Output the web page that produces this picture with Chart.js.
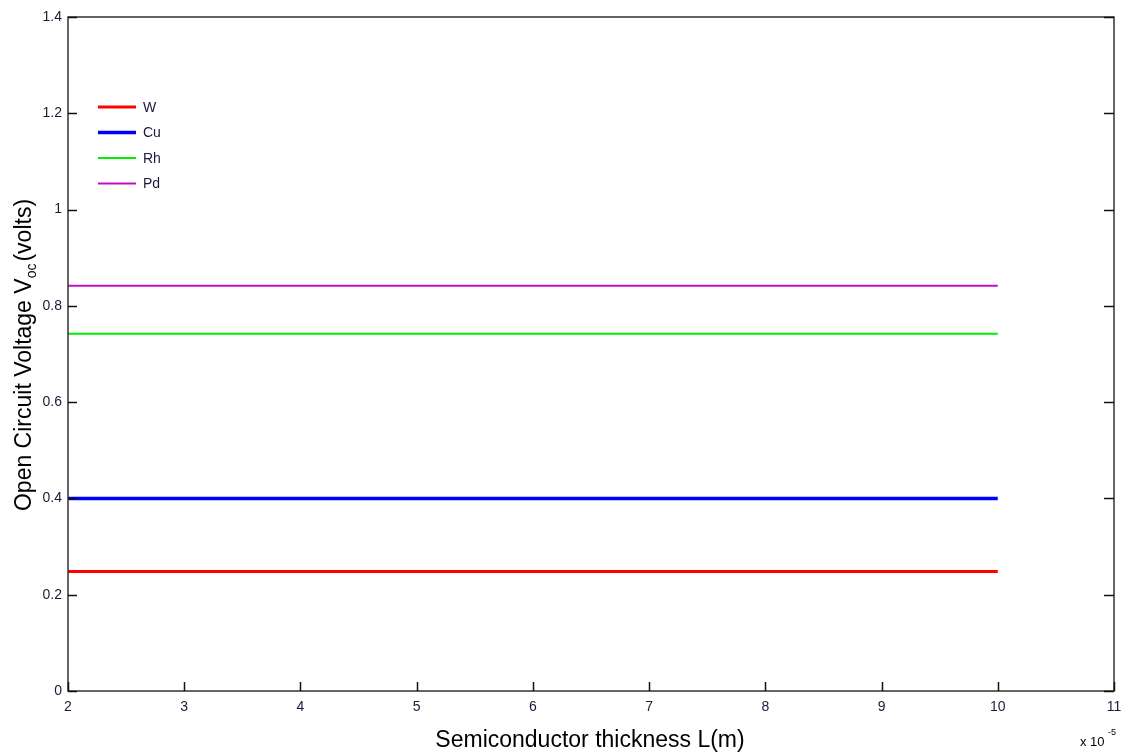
<!DOCTYPE html>
<html>
<head>
<meta charset="utf-8">
<script src="https://cdn.jsdelivr.net/npm/chart.js@4/dist/chart.umd.min.js"></script>
<style>
  html, body { margin: 0; padding: 0; background: #fff; }
  canvas { display: block; }
</style>
</head>
<body>
<canvas id="vocChart" width="1123" height="753"></canvas>
<script>
const thickness = [2, 3, 4, 5, 6, 7, 8, 9, 10];   // x 10^-5 m
const metals = ['W', 'Cu', 'Rh', 'Pd'];
const vocW  = [0.248, 0.248, 0.248, 0.248, 0.248, 0.248, 0.248, 0.248, 0.248];
const vocCu = [0.40, 0.40, 0.40, 0.40, 0.40, 0.40, 0.40, 0.40, 0.40];
const vocRh = [0.742, 0.742, 0.742, 0.742, 0.742, 0.742, 0.742, 0.742, 0.742];
const vocPd = [0.842, 0.842, 0.842, 0.842, 0.842, 0.842, 0.842, 0.842, 0.842];
const xTicks = [2, 3, 4, 5, 6, 7, 8, 9, 10, 11];
const yTicks = [0, 0.2, 0.4, 0.6, 0.8, 1, 1.2, 1.4];

const colors = ['#ff0000', '#0000ff', '#00ee00', '#c010c8'];
const widths = [3, 3.5, 2, 2];
const series = [vocW, vocCu, vocRh, vocPd];

const tickFont = "'Liberation Sans Narrow', 'Arial Narrow', 'Liberation Sans', sans-serif";
const labelFont = "'Liberation Sans', Arial, sans-serif";

const toPts = (ys) => ys.map((y, i) => ({ x: thickness[i], y }));

// frame, inward ticks, axis titles and the legend
const decorations = {
    id: 'decorations',
    afterDraw(chart) {
        const { ctx, chartArea: a, scales: { x, y } } = chart;
        ctx.save();
        ctx.strokeStyle = '#333';
        ctx.lineWidth = 1.5;
        ctx.strokeRect(a.left, a.top, a.right - a.left, a.bottom - a.top);

        ctx.lineWidth = 1.5;
        ctx.strokeStyle = '#111';
        ctx.beginPath();
        xTicks.forEach(v => {
            const px = Math.round(x.getPixelForValue(v)) + 0.5;
            ctx.moveTo(px, a.bottom); ctx.lineTo(px, a.bottom - 9);
        });
        yTicks.forEach(v => {
            const py = Math.round(y.getPixelForValue(v)) + 0.5;
            ctx.moveTo(a.left, py); ctx.lineTo(a.left + 9, py);
            ctx.moveTo(a.right, py); ctx.lineTo(a.right - 10, py);
        });
        ctx.stroke();

        // legend
        ctx.textBaseline = 'middle';
        ctx.textAlign = 'left';
        ctx.font = '14px ' + tickFont;
        metals.forEach((m, i) => {
            const ly = 107 + i * 25.5;
            ctx.strokeStyle = colors[i];
            ctx.lineWidth = widths[i];
            ctx.beginPath(); ctx.moveTo(98, ly); ctx.lineTo(136, ly); ctx.stroke();
            ctx.fillStyle = '#1a1a3a';
            ctx.fillText(m, 143, ly + 1);
        });

        // x axis title
        ctx.fillStyle = '#000';
        ctx.textAlign = 'center';
        ctx.textBaseline = 'alphabetic';
        ctx.font = '23px ' + labelFont;
        ctx.fillText('Semiconductor thickness L(m)', 590, 747);

        // exponent
        ctx.textAlign = 'left';
        ctx.font = '13px ' + tickFont;
        ctx.fillText('x 10', 1080, 746);
        ctx.font = '9px ' + tickFont;
        ctx.fillText('-5', 1108, 735);

        // y axis title with subscript
        ctx.translate(31, 355);
        ctx.rotate(-Math.PI / 2);
        const p1 = 'Open Circuit Voltage V';
        const p2 = 'oc';
        const p3 = '(volts)';
        ctx.font = '23px ' + labelFont;
        const w1 = ctx.measureText(p1).width;
        const w3 = ctx.measureText(p3).width;
        ctx.font = '14px ' + labelFont;
        const w2 = ctx.measureText(p2).width;
        const total = w1 + w2 + w3 + 2;
        let cx = -total / 2;
        ctx.font = '23px ' + labelFont;
        ctx.fillText(p1, cx, 0); cx += w1;
        ctx.font = '14px ' + labelFont;
        ctx.fillText(p2, cx, 5); cx += w2 + 2;
        ctx.font = '23px ' + labelFont;
        ctx.fillText(p3, cx, 0);
        ctx.restore();
    }
};

new Chart(document.getElementById('vocChart'), {
    type: 'line',
    data: {
        datasets: metals.map((m, i) => ({
            label: m,
            data: toPts(series[i]),
            borderColor: colors[i],
            backgroundColor: colors[i],
            borderWidth: widths[i],
            pointRadius: 0,
            fill: false,
            tension: 0
        }))
    },
    options: {
        responsive: false,
        animation: false,
        layout: { padding: { left: 0, top: 17, right: 9, bottom: 0 } },
        plugins: { legend: { display: false }, tooltip: { enabled: false } },
        scales: {
            x: {
                type: 'linear',
                min: 2, max: 11,
                afterFit: (s) => { s.height = 62; s.paddingRight = 0; },
                afterBuildTicks: (s) => { s.ticks = xTicks.map(v => ({ value: v })); },
                grid: { display: false, drawTicks: false },
                border: { display: false },
                ticks: { padding: 8, color: '#1a1a3a', font: { family: tickFont, size: 14 }, maxRotation: 0 }
            },
            y: {
                min: 0, max: 1.4,
                afterFit: (s) => { s.width = 68; },
                afterBuildTicks: (s) => { s.ticks = yTicks.map(v => ({ value: v })); },
                grid: { display: false, drawTicks: false },
                border: { display: false },
                ticks: { padding: 6, color: '#1a1a3a', font: { family: tickFont, size: 14 },
                         callback: (v) => String(Math.round(v * 10) / 10) }
            }
        }
    },
    plugins: [decorations]
});
</script>
</body>
</html>
